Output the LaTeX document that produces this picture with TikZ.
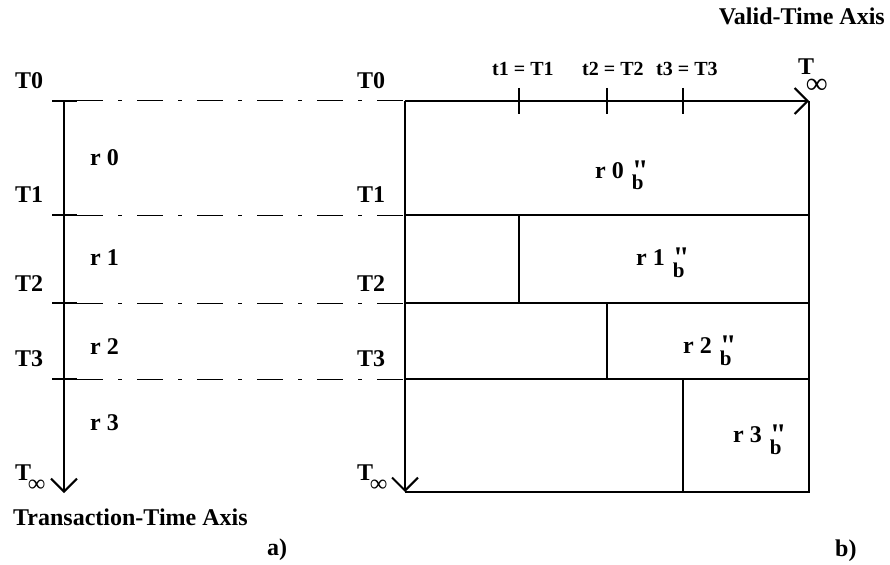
\documentclass[tikz,border=0pt]{standalone}
\usepackage{fontspec}
\setmainfont{Liberation Serif}
\newfontfamily\myqfont[Ligatures=TeXOff]{Liberation Serif}
\usetikzlibrary{arrows.meta}
\newcommand\myTinf{T\kern-3pt\raisebox{-11pt}{∞}}
\newcommand\myTinfTop{T\kern-8pt\raisebox{-19pt}{\fontsize{30}{30}\selectfont ∞}}
\newcommand\myrpp[1]{r #1\hspace{8pt}\rlap{\raisebox{-2pt}{\myqfont\bfseries\fontsize{30}{30}\selectfont "}}\raisebox{-12pt}{\fontsize{21}{21}\selectfont b}}
\begin{document}
\begin{tikzpicture}[x=1pt,y=-1pt,
  lbl/.style={font=\fontsize{24}{24}\selectfont\bfseries, inner sep=0pt, anchor=base west},
  tlbl/.style={font=\fontsize{20}{20}\selectfont\bfseries, inner sep=0pt, anchor=base west},
  thickline/.style={line width=2pt},
  ddline/.style={line width=1pt, dash pattern=on 26pt off 15pt on 4pt off 15pt},
  barb/.style={-{Straight Barb[length=13pt,width=26pt]}}]
\useasboundingbox (0,0) rectangle (890,564);
% ---------- coordinates ----------
\coordinate (LA0) at (64,101);
\coordinate (LAinf) at (64,493);
\foreach \n/\y in {0/101,1/215,2/303,3/379}{
  \coordinate (LTa\n) at (52,\y);
  \coordinate (LTb\n) at (77,\y);
  \coordinate (BL\n) at (405,\y);
  \coordinate (BR\n) at (809,\y);
}
\coordinate (BLinf) at (405,492);
\coordinate (BRinf) at (809,492);
\coordinate (V1a) at (519,215); \coordinate (V1b) at (519,303);
\coordinate (V2a) at (607,303); \coordinate (V2b) at (607,379);
\coordinate (V3a) at (683,379); \coordinate (V3b) at (683,492);
\coordinate (K1a) at (519,88); \coordinate (K1b) at (519,114);
\coordinate (K2a) at (607,88); \coordinate (K2b) at (607,114);
\coordinate (K3a) at (683,88); \coordinate (K3b) at (683,114);
% ---------- left axis ----------
\draw[thickline, barb] (LA0) -- (LAinf);
\foreach \n in {0,1,2,3}{
  \draw[thickline] (LTa\n) -- (LTb\n);
  \draw[ddline] (LTb\n) -- (BL\n);
}
% ---------- right box ----------
\draw[thickline, barb] (BL0) -- (BR0);
\draw[thickline, barb] (BL0) -- (BLinf);
\draw[thickline] (BR0) -- (BRinf) -- (BLinf);
\foreach \n in {1,2,3}{ \draw[thickline] (BL\n) -- (BR\n); }
\draw[thickline] (V1a) -- (V1b);
\draw[thickline] (V2a) -- (V2b);
\draw[thickline] (V3a) -- (V3b);
\draw[thickline] (K1a) -- (K1b);
\draw[thickline] (K2a) -- (K2b);
\draw[thickline] (K3a) -- (K3b);
% ---------- labels left ----------
\node[lbl] (lT0) at (15,89) {T0};
\node[lbl] (lT1) at (15,202) {T1};
\node[lbl] (lT2) at (15,291) {T2};
\node[lbl] (lT3) at (15,366) {T3};
\node[lbl] (lTi) at (15,480) {\myTinf};
\node[lbl] (lr0) at (90,165) {r 0};
\node[lbl] (lr1) at (90,265) {r 1};
\node[lbl] (lr2) at (90,354) {r 2};
\node[lbl] (lr3) at (90,430) {r 3};
% ---------- labels right ----------
\node[lbl] (rT0) at (357,89) {T0};
\node[lbl] (rT1) at (357,202) {T1};
\node[lbl] (rT2) at (357,291) {T2};
\node[lbl] (rT3) at (357,366) {T3};
\node[lbl] (rTi) at (357,480) {\myTinf};
\node[lbl] (rr0) at (595,178) {\myrpp{0}};
\node[lbl] (rr1) at (636,265) {\myrpp{1}};
\node[lbl] (rr2) at (683,353) {\myrpp{2}};
\node[lbl] (rr3) at (733,442) {\myrpp{3}};
\node[tlbl] (t1) at (492,76) {t1 = T1};
\node[tlbl] (t2) at (582,76) {t2 = T2};
\node[tlbl] (t3) at (656,76) {t3 = T3};
\node[lbl] (tTi) at (798,75) {\myTinfTop};
% ---------- captions ----------
\node[lbl, anchor=base east] (vta) at (885,25) {Valid-Time Axis};
\node[lbl] (tta) at (13,525) {Transaction-Time Axis};
\node[lbl] (ca) at (267,555) {a)};
\node[lbl] (cb) at (835,556) {b)};
\end{tikzpicture}
\end{document}
